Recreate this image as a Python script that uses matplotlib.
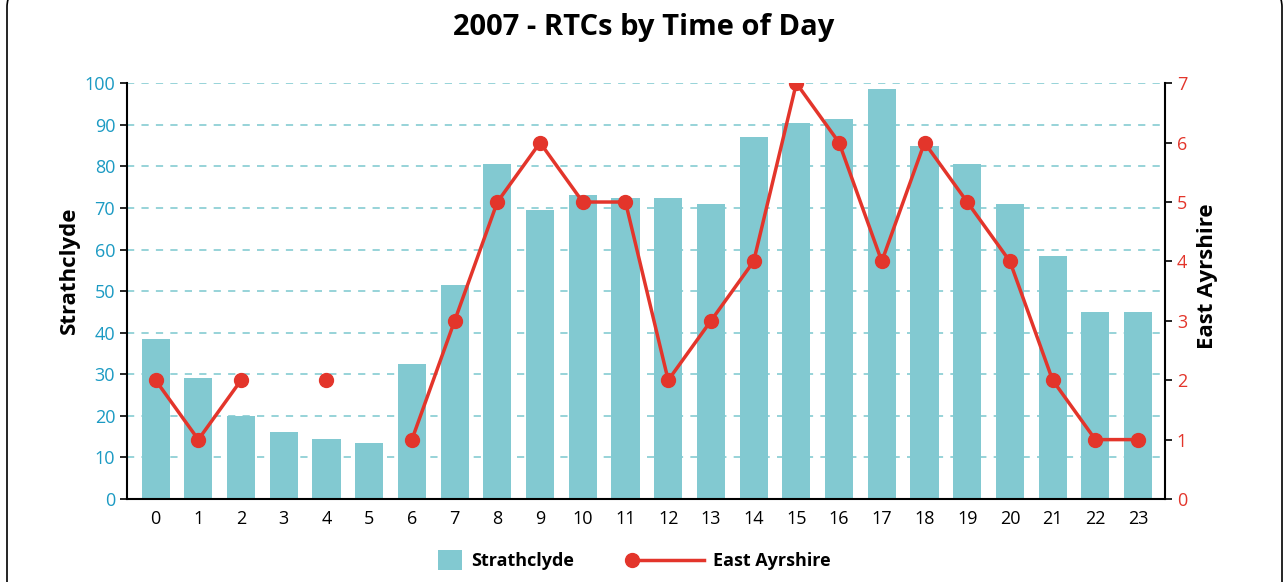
import numpy as np
import matplotlib
matplotlib.use("Agg")
import matplotlib.pyplot as plt
from matplotlib.patches import FancyBboxPatch, Rectangle
from matplotlib.legend_handler import HandlerLine2D, HandlerPatch

plt.rcParams["font.family"] = ["Open Sans", "DejaVu Sans"]

# Data
hours = list(range(24))
strathclyde = [38.5, 29, 20, 16, 14.5, 13.5, 32.5, 51.5, 80.5, 69.5, 73, 72.5,
               72.5, 71, 87, 90.5, 91.5, 98.5, 85, 80.5, 71, 58.5, 45, 45]
east_ayrshire = [2, 1, 2, np.nan, 2, np.nan, 1, 3, 5, 6, 5, 5,
                 2, 3, 4, 7, 6, 4, 6, 5, 4, 2, 1, 1]

bar_color = "#82c9d1"
line_color = "#e3352b"
blue_text = "#1b9ac3"


class MarkerAtLeft(HandlerLine2D):
    def create_artists(self, *args, **kwargs):
        arts = super().create_artists(*args, **kwargs)
        for a in arts:
            a.set_markevery([0])
        return arts


def square_patch(legend, orig_handle, xdescent, ydescent, width, height, fontsize):
    side = height * 1.55
    return Rectangle((-xdescent + width - side * 1.25, -ydescent - (side - height) / 2),
                     side * 1.25, side)


fig = plt.figure(figsize=(12.88, 5.82), dpi=100)

# rounded frame around the chart
frame = FancyBboxPatch((0.07, -0.3), 12.75, 6.23, boxstyle="round,pad=0,rounding_size=0.18",
                       transform=fig.dpi_scale_trans, facecolor="white",
                       edgecolor="black", linewidth=1.2, zorder=-10)
fig.patches.append(frame)

ax = fig.add_axes([0.0986, 0.1426, 0.8059, 0.7144])
ax.set_facecolor("none")
bars = ax.bar(hours, strathclyde, width=0.66, color=bar_color, label="Strathclyde", zorder=2)

ax.set_ylim(0, 100)
ax.set_yticks(range(0, 101, 10))
ax.set_xlim(-0.67, 23.63)
ax.set_xticks(hours)
ax.set_axisbelow(True)
ax.yaxis.grid(True, color="#8fd0d6", linestyle=(0, (4, 4)), linewidth=1.3, zorder=0)
ax.tick_params(axis="y", colors="black", labelcolor=blue_text, labelsize=13, length=5, width=1.2)
ax.tick_params(axis="x", length=0, labelsize=13, pad=8)
ax.spines["top"].set_visible(False)
ax.spines["right"].set_visible(False)
for s in ["left", "bottom"]:
    ax.spines[s].set_linewidth(1.5)
ax.set_ylabel("Strathclyde", fontsize=16, fontweight="bold", va="center")
ax.yaxis.set_label_coords(-0.055, 0.55)

ax2 = ax.twinx()
line, = ax2.plot(hours, east_ayrshire, color=line_color, linewidth=2.5, marker="o",
                 markersize=10, label="East Ayrshire", zorder=3)
ax2.set_ylim(0, 7)
ax2.set_yticks(range(0, 8))
ax2.tick_params(axis="y", colors="black", labelcolor=line_color, labelsize=13, length=5, width=1.2)
for s in ["top", "left", "bottom"]:
    ax2.spines[s].set_visible(False)
ax2.spines["right"].set_linewidth(1.5)
ax2.set_ylabel("East Ayrshire", fontsize=16, fontweight="bold", va="center")
ax2.yaxis.set_label_coords(1.041, 0.536)

fig.text(0.5, 0.952, "2007 - RTCs by Time of Day", ha="center", va="center",
         fontsize=21, fontweight="bold")

bar_handle = bars[0]
fig.legend([bar_handle, line], ["Strathclyde", "East Ayrshire"], loc="center",
           bbox_to_anchor=(0.474, 0.036), ncol=2, frameon=False,
           handler_map={line: MarkerAtLeft(numpoints=1),
                        bar_handle: HandlerPatch(patch_func=square_patch)},
           prop={"weight": "bold", "size": 13},
           columnspacing=3.2, handlelength=4.0, handletextpad=0.5)

fig.savefig("out.png", dpi=100)
